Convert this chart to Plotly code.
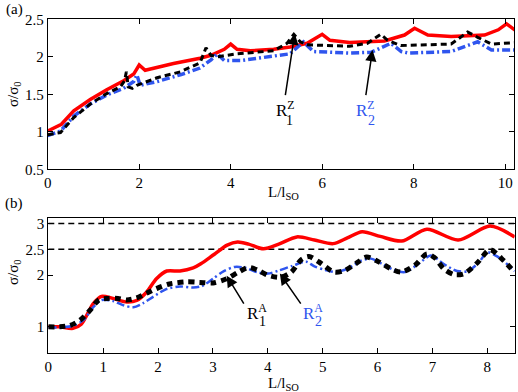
import plotly.graph_objects as go

# ---- panel (a) ----
a_red_x = [0, 0.3, 0.57, 0.93, 1.29, 1.66, 1.88, 2.0, 2.13, 2.75, 3.33, 3.57, 3.86, 4.0, 4.14, 4.43,
           4.94, 5.3, 5.67, 6.0, 6.17, 6.6, 7.36, 7.8, 8.02, 8.31, 8.82, 9.55, 9.85, 10.03, 10.25]
a_red_y = [1.01, 1.1, 1.28, 1.43, 1.56, 1.68, 1.77, 1.89, 1.82, 1.91, 1.98, 2.02, 2.1, 2.17, 2.1, 2.08,
           2.1, 2.13, 2.18, 2.30, 2.22, 2.19, 2.21, 2.29, 2.38, 2.29, 2.27, 2.29, 2.36, 2.44, 2.34]

a_blk_x = [0, 0.28, 0.57, 0.93, 1.29, 1.59, 1.68, 1.72, 1.76, 1.85, 1.95, 2.39, 2.9, 3.33, 3.46, 3.57,
           3.71, 4.14, 4.94, 5.23, 5.38, 5.52, 5.67, 6.6, 6.99, 7.28, 7.43, 7.72, 8.82, 9.18, 9.4,
           9.7, 10.25]
a_blk_y = [0.96, 0.99, 1.19, 1.37, 1.51, 1.6, 1.68, 1.8, 1.6, 1.58, 1.62, 1.72, 1.80, 1.92, 2.12, 2.02,
           2.0, 2.04, 2.08, 2.18, 2.30, 2.20, 2.16, 2.14, 2.18, 2.30, 2.22, 2.15, 2.17, 2.33, 2.26,
           2.17, 2.19]

a_blu_x = [0, 0.28, 0.57, 0.93, 1.29, 1.66, 1.88, 1.95, 2.02, 2.39, 2.9, 3.33, 3.57, 3.71, 3.86, 4.22,
           5.3, 5.59, 5.81, 6.6, 7.07, 7.5, 7.73, 7.88, 8.82, 9.26, 9.4, 9.7, 10.25]
a_blu_y = [0.95, 1.01, 1.21, 1.37, 1.49, 1.58, 1.67, 1.76, 1.62, 1.67, 1.76, 1.85, 1.96, 2.04, 1.95, 1.95,
           2.04, 2.20, 2.07, 2.05, 2.06, 2.18, 2.07, 2.05, 2.07, 2.16, 2.2, 2.09, 2.09]

# ---- panel (b) ----
b_red_x = [0, 0.2, 0.45, 0.6, 0.82, 0.97, 1.18, 1.43, 1.61, 1.79, 1.97, 2.16, 2.4, 2.64, 2.78, 3.02,
           3.26, 3.45, 3.65, 3.92, 4.2, 4.53, 4.85, 5.19, 5.45, 5.72, 6.05, 6.44, 6.9, 7.47, 8.05, 8.5]
b_red_y = [1.0, 1.0, 0.97, 1.05, 1.45, 1.59, 1.55, 1.48, 1.51, 1.67, 1.93, 2.08, 2.08, 2.14, 2.22, 2.40,
           2.58, 2.64, 2.60, 2.51, 2.60, 2.74, 2.68, 2.61, 2.72, 2.84, 2.75, 2.66, 2.89, 2.68, 2.95, 2.74]

b_blk_x = [0, 0.21, 0.4, 0.58, 0.76, 0.92, 1.09, 1.27, 1.43, 1.61, 1.79, 1.97, 2.21, 2.52, 2.76, 3.0,
           3.25, 3.45, 3.65, 3.85, 4.0, 4.24, 4.43, 4.61, 4.75, 4.94, 5.21, 5.4, 5.6, 5.8, 6.0, 6.25,
           6.43, 6.68, 6.9, 7.05, 7.21, 7.4, 7.58, 7.82, 8.05, 8.3, 8.5]
b_blk_y = [1.0, 1.0, 1.03, 1.13, 1.32, 1.52, 1.55, 1.55, 1.52, 1.56, 1.65, 1.74, 1.83, 1.87, 1.86, 1.85,
           1.93, 2.05, 2.15, 2.08, 2.0, 1.96, 2.06, 2.30, 2.36, 2.25, 2.06, 2.09, 2.22, 2.35, 2.27, 2.12,
           2.06, 2.19, 2.41, 2.33, 2.12, 2.01, 2.03, 2.24, 2.49, 2.28, 2.05]

b_blu_x = [0, 0.21, 0.45, 0.64, 0.82, 0.97, 1.18, 1.36, 1.55, 1.73, 1.91, 2.15, 2.4, 2.64, 2.8, 3.0,
           3.2, 3.4, 3.6, 3.8, 4.0, 4.2, 4.45, 4.7, 4.85, 5.05, 5.25, 5.5, 5.7, 5.88, 6.08, 6.3, 6.5,
           6.75, 6.97, 7.2, 7.45, 7.65, 7.85, 8.0, 8.2, 8.5]
b_blu_y = [0.99, 0.99, 1.02, 1.13, 1.38, 1.52, 1.50, 1.42, 1.38, 1.46, 1.58, 1.73, 1.78, 1.76, 1.79, 1.93,
           2.08, 2.16, 2.14, 2.06, 2.03, 2.09, 2.18, 2.26, 2.17, 2.10, 2.06, 2.15, 2.28, 2.32, 2.22, 2.10,
           2.06, 2.22, 2.38, 2.22, 2.08, 2.08, 2.25, 2.44, 2.35, 2.08]

b_hlines = [2.5, 3.0]

RED, BLK, BLU = "#ff0000", "#000000", "#2f55ee"
FONT = "Liberation Serif, Times New Roman, serif"
W, H = 518, 392


def px(x, y):
    # pixel position (from top-left) -> paper coords
    return x / W, 1 - y / H


fig = go.Figure()

fig.add_trace(go.Scatter(x=a_red_x, y=a_red_y, mode="lines", line=dict(color=RED, width=3.5),
                         xaxis="x", yaxis="y"))
fig.add_trace(go.Scatter(x=a_blu_x, y=a_blu_y, mode="lines",
                         line=dict(color=BLU, width=3.5, dash="8px,3px,2px,3px"), xaxis="x", yaxis="y"))
fig.add_trace(go.Scatter(x=a_blk_x, y=a_blk_y, mode="lines",
                         line=dict(color=BLK, width=3, dash="6px,4px"), xaxis="x", yaxis="y"))

for h in b_hlines:
    fig.add_trace(go.Scatter(x=[0, 8.5], y=[h, h], mode="lines",
                             line=dict(color=BLK, width=1.5, dash="6px,4px"), xaxis="x2", yaxis="y2"))
fig.add_trace(go.Scatter(x=b_red_x, y=b_red_y, mode="lines", line=dict(color=RED, width=3.5, shape="spline",
                         smoothing=0.8), xaxis="x2", yaxis="y2"))
fig.add_trace(go.Scatter(x=b_blu_x, y=b_blu_y, mode="lines",
                         line=dict(color=BLU, width=2.5, dash="8px,3px,2px,3px", shape="spline", smoothing=0.8),
                         xaxis="x2", yaxis="y2"))
fig.add_trace(go.Scatter(x=b_blk_x, y=b_blk_y, mode="lines",
                         line=dict(color=BLK, width=5, dash="6px,5px", shape="spline", smoothing=0.8),
                         xaxis="x2", yaxis="y2"))

axis_common = dict(showline=True, linecolor="black", linewidth=1, mirror="ticks", ticks="inside",
                   ticklen=5, tickcolor="black", showgrid=False, zeroline=False, automargin=False,
                   tickfont=dict(family=FONT, size=15, color="black"))

fig.update_layout(
    template="none",
    width=W, height=H, showlegend=False,
    paper_bgcolor="white", plot_bgcolor="white",
    margin=dict(l=0, r=0, t=0, b=0, pad=0),
    font=dict(family=FONT, size=15, color="black"),
    xaxis=dict(domain=[47.7 / W, 514.3 / W], range=[0, 10.2], tickvals=[0, 2, 4, 6, 8, 10],
               anchor="y", **axis_common),
    yaxis=dict(domain=[1 - 169.3 / H, 1 - 19.3 / H], range=[0.5, 2.5], tickvals=[0.5, 1, 1.5, 2, 2.5],
               ticktext=["0.5", "1", "1.5", "2", "2.5"], anchor="x", **axis_common),
    xaxis2=dict(domain=[48.3 / W, 514.7 / W], range=[0, 8.5], tickvals=[0, 1, 2, 3, 4, 5, 6, 7, 8],
                anchor="y2", **axis_common),
    yaxis2=dict(domain=[1 - 352.7 / H, 1 - 218.3 / H], range=[0.5, 3.1], tickvals=[1, 2, 2.5, 3],
                ticktext=["1", "2", "2.5", "3"], anchor="x2", **axis_common),
)

ann = []
# panel labels and axis titles, placed by pixel
for txt, x, y, ang in [("(a)", 14, 9, 0), ("(b)", 14, 203, 0),
                       ("σ/σ<sub>0</sub>", 14, 94, -90), ("σ/σ<sub>0</sub>", 14, 272, -90),
                       ("L/l<sub>SO</sub>", 283, 193, 0), ("L/l<sub>SO</sub>", 283, 384, 0)]:
    xp, yp = px(x, y)
    ann.append(dict(text=txt, x=xp, y=yp, xref="paper", yref="paper", textangle=ang))

# labels with arrows
labels = [
    # text, sub, color, text x, y, sub x, y, tail x, y, head x, y, axes
    ("R<sup>Z</sup>", "1", BLK, 5.2, 1.31, 5.28, 1.15, 5.19, 1.47, 5.40, 2.31, "x", "y"),
    ("R<sup>Z</sup>", "2", BLU, 6.95, 1.31, 7.07, 1.15, 6.95, 1.47, 7.10, 2.09, "x", "y"),
    ("R<sup>A</sup>", "1", BLK, 3.8, 1.28, 3.9, 1.10, 3.58, 1.42, 3.25, 1.99, "x2", "y2"),
    ("R<sup>A</sup>", "2", BLU, 4.82, 1.28, 4.93, 1.10, 4.62, 1.42, 4.22, 2.03, "x2", "y2"),
]
for txt, sub, col, tx, ty, sx, sy, ax, ay, hx, hy, xr, yr in labels:
    ann.append(dict(text=txt, x=tx, y=ty, xref=xr, yref=yr, font=dict(size=17, color=col, family=FONT)))
    ann.append(dict(text=sub, x=sx, y=sy, xref=xr, yref=yr, font=dict(size=14, color=col, family=FONT)))
    ann.append(dict(text="", x=hx, y=hy, ax=ax, ay=ay, xref=xr, yref=yr, axref=xr, ayref=yr,
                    showarrow=True, arrowhead=2, arrowsize=1.5, arrowwidth=1.5, arrowcolor="black"))

for a in ann:
    a.setdefault("showarrow", False)
    a.setdefault("xanchor", "center")
    a.setdefault("yanchor", "middle")
    a.setdefault("font", dict(size=15, color="black", family=FONT))

fig.update_layout(annotations=ann)
# body has a default 8px margin; drop it so the figure sits at the window's corner
fig.write_html("out.html", config={"displayModeBar": False},
               post_script="document.body.style.margin='0px';")
